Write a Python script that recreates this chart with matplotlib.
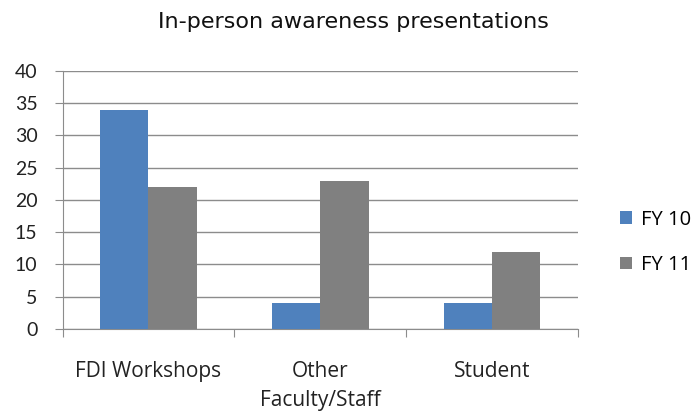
import matplotlib.pyplot as plt
import numpy as np

categories = ["FDI Workshops", "Other\nFaculty/Staff", "Student"]
fy10 = [34, 4, 4]
fy11 = [22, 23, 12]
series_names = ["FY 10", "FY 11"]

plt.rcParams['font.family'] = ['Lato', 'DejaVu Sans']

fig = plt.figure(figsize=(6.95, 4.11), dpi=100)
ax = fig.add_axes([0.090, 0.1995, 0.742, 0.628])

x = np.arange(len(categories))
w = 0.28
ax.bar(x - w / 2, fy10, w, color="#4F81BD", label=series_names[0], zorder=3)
ax.bar(x + w / 2, fy11, w, color="#808080", label=series_names[1], zorder=3)

ax.set_xlim(-0.5, len(categories) - 0.5)
ax.set_ylim(0, 40)
ax.set_yticks(range(0, 41, 5))
ax.yaxis.grid(True, color="#8c8c8c", linewidth=1, zorder=0)

ax.set_xticks(np.arange(-0.5, len(categories), 1.0))
ax.set_xticklabels([])
ax.set_xticks(x, minor=True)
ax.set_xticklabels(categories, minor=True, fontsize=15, color="#222222",
                   family='Open Sans', linespacing=1.5)
ax.tick_params(axis='x', which='major', length=6, color="#8c8c8c", direction='out')
ax.tick_params(axis='x', which='minor', length=0, pad=23)
ax.tick_params(axis='y', length=6, color="#8c8c8c", labelsize=14, labelcolor="#222222", pad=12)

for side in ["top", "right"]:
    ax.spines[side].set_visible(False)
ax.spines["left"].set_color("#8c8c8c")
ax.spines["bottom"].set_color("#8c8c8c")

fig.text(0.508, 0.946, "In-person awareness presentations", ha='center', va='center',
         fontsize=16, color="#111111", family='DejaVu Sans')

fig.legend(loc='center left', bbox_to_anchor=(0.892, 0.41), frameon=False,
           prop={'family': 'Open Sans', 'size': 14.5}, handlelength=0.6, handleheight=0.6,
           handletextpad=0.45, labelspacing=1.25, borderaxespad=0, borderpad=0)

fig.savefig("out.png", dpi=100)
